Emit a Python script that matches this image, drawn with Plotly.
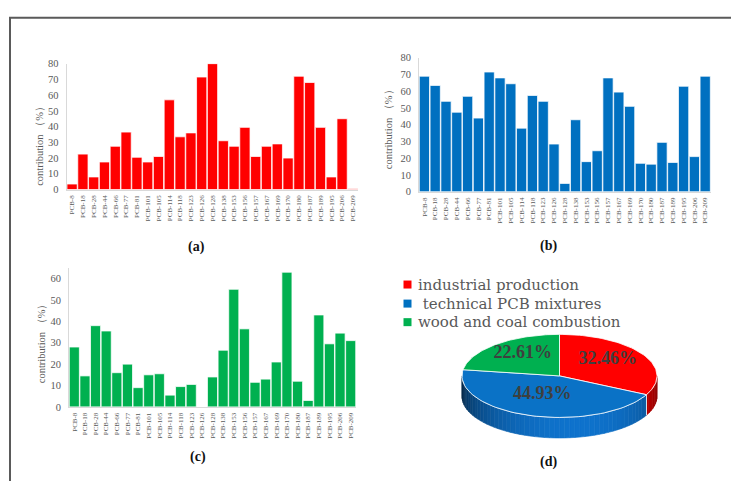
import numpy as np
import plotly.graph_objects as go

# ---------------- data ----------------
pcb = ["PCB-8", "PCB-18", "PCB-28", "PCB-44", "PCB-66", "PCB-77", "PCB-81", "PCB-101",
       "PCB-105", "PCB-114", "PCB-118", "PCB-123", "PCB-126", "PCB-128", "PCB-138",
       "PCB-153", "PCB-156", "PCB-157", "PCB-167", "PCB-169", "PCB-170", "PCB-180",
       "PCB-187", "PCB-189", "PCB-195", "PCB-206", "PCB-209"]
industrial = [3.5, 22.5, 8, 17.5, 27.5, 36.5, 20.5, 17.5, 21, 57, 33.5, 36, 71.5, 80, 31,
              27.5, 39.5, 21, 27.5, 29, 20, 72, 68, 39.5, 8, 45, 0.5]
technical = [69, 63.5, 54, 47.5, 57, 44, 71.5, 68, 64.5, 38, 57.5, 54, 28.5, 5, 43,
             18, 24.5, 68, 59.5, 51, 17, 16.5, 29.5, 17.5, 63, 21, 69]
combustion = [28, 14.5, 38, 35.5, 16, 20, 9, 15, 15.5, 5.5, 9.5, 10.5, 0, 14, 26.5,
              55, 36.5, 11.5, 13, 21, 63, 12, 3, 43, 29.5, 34.5, 31]
sources = ["industrial production", " technical PCB mixtures", "wood and coal combustion"]
shares = [32.46, 44.93, 22.61]
panel_labels = ["(a)", "(b)", "(c)", "(d)"]
y_title = "contribution （%）"

# ---------------- style ----------------
W, H = 731, 486
RED, BLUE, GREEN = "#FF0000", "#0070C0", "#00B050"
GRAY = "#595959"
SERIF = "Liberation Serif"


def fx(px):
    return px / W


def fy(py):
    return 1 - py / H


fig = go.Figure()

bar_line = dict(color="rgba(255,255,255,0.75)", width=1)
fig.add_trace(go.Bar(x=pcb, y=industrial, marker=dict(color=RED, line=bar_line),
                     xaxis="x", yaxis="y", showlegend=False, hoverinfo="skip"))
fig.add_trace(go.Bar(x=pcb, y=technical, marker=dict(color=BLUE, line=bar_line),
                     xaxis="x2", yaxis="y2", showlegend=False, hoverinfo="skip"))
fig.add_trace(go.Bar(x=pcb, y=combustion, marker=dict(color=GREEN, line=bar_line),
                     xaxis="x3", yaxis="y3", showlegend=False, hoverinfo="skip"))

# ---------------- pseudo-3D pie (pixel axis x4/y4) ----------------
cx, cy, ra, rb, depth = 559.5, 379.5, 97.5, 42.5, 21
base_rgb = [(235, 0, 0), (15, 115, 205), (0, 176, 80)]
top_cols = [RED, "#0A72C6", GREEN]


def ell(t_deg, dy=0.0):
    t = np.radians(t_deg)
    return cx + ra * np.sin(t), cy - rb * np.cos(t) + dy


bounds = np.concatenate([[0], np.cumsum(shares)]) / sum(shares) * 360.0

# side walls (front half, 90..270 deg clockwise from top)
for i in range(len(shares)):
    lo, hi = max(bounds[i], 90), min(bounds[i + 1], 270)
    if lo >= hi:
        continue
    edges = np.linspace(lo, hi, max(2, int((hi - lo) / 3) + 1))
    for a0, a1 in zip(edges[:-1], edges[1:]):
        tt = np.linspace(a0, a1, 4)
        xt, yt = ell(tt)
        xb, yb = ell(tt[::-1], depth)
        mid = 0.5 * (a0 + a1)
        f = 0.33 + 0.67 * max(0.0, np.cos(np.radians((mid - 170) * 0.9)))
        r, g, b = base_rgb[i]
        col = f"rgb({int(r*f)},{int(g*f)},{int(b*f)})"
        fig.add_trace(go.Scatter(x=np.concatenate([xt, xb, xt[:1]]),
                                 y=np.concatenate([yt, yb, yt[:1]]),
                                 mode="lines", fill="toself", fillcolor=col,
                                 line=dict(color=col, width=0.6),
                                 xaxis="x4", yaxis="y4", showlegend=False, hoverinfo="skip"))
    for edge in (bounds[i], bounds[i + 1]):
        if 90 < edge < 270:
            x0, y0 = ell(edge)
            x1, y1 = ell(edge, depth)
            fig.add_trace(go.Scatter(x=[x0, x1], y=[y0, y1], mode="lines",
                                     line=dict(color="rgba(255,255,255,0.8)", width=1),
                                     xaxis="x4", yaxis="y4", showlegend=False, hoverinfo="skip"))

# front rim highlight
tt = np.linspace(90, 270, 80)
xr, yr = ell(tt)
fig.add_trace(go.Scatter(x=xr, y=yr, mode="lines",
                         line=dict(color="rgba(255,255,255,0.55)", width=1),
                         xaxis="x4", yaxis="y4", showlegend=False, hoverinfo="skip"))

# top face wedges
for i in range(len(shares)):
    tt = np.linspace(bounds[i], bounds[i + 1], 60)
    xa, ya = ell(tt)
    fig.add_trace(go.Scatter(x=np.concatenate([[cx], xa, [cx]]),
                             y=np.concatenate([[cy], ya, [cy]]),
                             mode="lines", fill="toself", fillcolor=top_cols[i],
                             line=dict(color="rgba(255,255,255,0.8)", width=1),
                             xaxis="x4", yaxis="y4", showlegend=False, hoverinfo="skip"))

# percentage labels
lab_x, lab_y, lab_t = [], [], []
for i in range(len(shares)):
    mid = 0.5 * (bounds[i] + bounds[i + 1])
    t = np.radians(mid)
    lab_x.append(cx + 0.58 * ra * np.sin(t))
    lab_y.append(cy - 0.58 * rb * np.cos(t) - 4)
    lab_t.append(f"{shares[i]:.2f}%")
fig.add_trace(go.Scatter(x=lab_x, y=lab_y, text=lab_t, mode="text",
                         textfont=dict(family=SERIF, size=18, color="#3F3F3F",
                                       weight="bold"),
                         xaxis="x4", yaxis="y4", showlegend=False, hoverinfo="skip"))

# legend swatches + text
leg_y = [286, 305.5, 324.5]
fig.add_trace(go.Scatter(x=[407.5] * 3, y=leg_y, mode="markers",
                         marker=dict(symbol="square", size=8, color=[RED, BLUE, GREEN]),
                         xaxis="x4", yaxis="y4", showlegend=False, hoverinfo="skip"))

annotations = []
for i, s in enumerate(sources):
    annotations.append(dict(x=fx(416), y=fy(leg_y[i]), xref="paper", yref="paper",
                            text=s.replace(" ", "&nbsp;", 1) if s.startswith(" ") else s,
                            showarrow=False, xanchor="left", yanchor="middle",
                            font=dict(family="DejaVu Serif", size=15, color=GRAY)))

# panel labels
for lab, (px, py) in zip(panel_labels, [(196, 248), (548, 247), (198, 462), (548, 468)]):
    annotations.append(dict(x=fx(px), y=fy(py), xref="paper", yref="paper", text=lab,
                            showarrow=False, xanchor="center", yanchor="middle",
                            font=dict(family=SERIF, size=14, color="#111111", weight="bold")))

# y-axis titles
for (px, py) in [(39.5, 141.5), (388.5, 124.5), (41, 344)]:
    annotations.append(dict(x=fx(px), y=fy(py), xref="paper", yref="paper", text=y_title,
                            textangle=-90, showarrow=False, xanchor="center", yanchor="middle",
                            font=dict(family=SERIF, size=10.5, color=GRAY)))


def xax(d0, d1, anchor):
    return dict(domain=[fx(d0), fx(d1)], anchor=anchor, type="category",
                categoryorder="array", categoryarray=pcb, tickangle=-90,
                tickfont=dict(family=SERIF, size=7, color=GRAY), ticklabelstandoff=2,
                showline=True, linecolor="#D9D9D9", linewidth=1, showgrid=False,
                zeroline=False, ticks="", fixedrange=True)


def yax(bot, top, rng, anchor):
    return dict(domain=[fy(bot), fy(top)], anchor=anchor, range=rng, dtick=10,
                tickfont=dict(family=SERIF, size=10.5, color=GRAY), ticklabelstandoff=5,
                showline=True, linecolor="#D9D9D9", linewidth=1, showgrid=False,
                zeroline=False, ticks="", fixedrange=True)


fig.update_layout(
    width=W, height=H, autosize=False,
    margin=dict(l=0, r=0, t=0, b=0, pad=0),
    paper_bgcolor="white", plot_bgcolor="rgba(0,0,0,0)",
    bargap=0.05, showlegend=False,
    xaxis=xax(66.7, 358.3, "y"),
    yaxis=yax(188.8, 60, [0, 80], "x"),
    xaxis2=xax(419, 710.6, "y2"),
    yaxis2=yax(191.1, 54, [0, 80], "x2"),
    xaxis3=xax(69, 356, "y3"),
    yaxis3=yax(411.2, 269, [0, 65], "x3"),
    xaxis4=dict(domain=[0, 1], anchor="y4", range=[0, W], visible=False, fixedrange=True),
    yaxis4=dict(domain=[0, 1], anchor="x4", range=[H, 0], visible=False, fixedrange=True),
    annotations=annotations,
    shapes=[dict(type="path", xref="paper", yref="paper",
                 path=f"M {fx(10)} {fy(487)} L {fx(10)} {fy(13)} L {fx(732)} {fy(13)}",
                 line=dict(color="#5A5A5A", width=2))],
)

fig.write_html("out.html", config={"displayModeBar": False, "staticPlot": True},
               post_script="document.body.style.margin='0';document.body.style.padding='0';"
                           "document.body.style.overflow='hidden';")
